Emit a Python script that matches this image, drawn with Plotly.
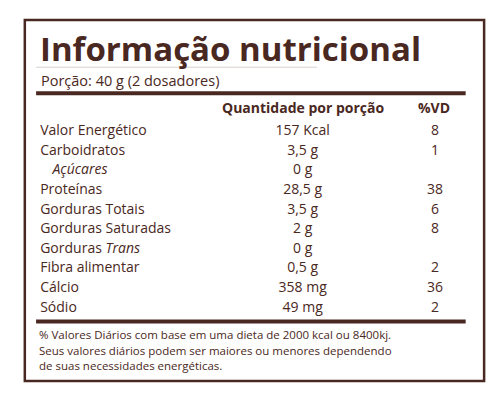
import plotly.graph_objects as go

nutrients = ["Valor Energético", "Carboidratos", "<i>Açúcares</i>", "Proteínas", "Gorduras Totais",
             "Gorduras Saturadas", "Gorduras <i>Trans</i>", "Fibra alimentar", "Cálcio", "Sódio"]
amounts = ["157 Kcal", "3,5 g", "0 g", "28,5 g", "3,5 g", "2 g", "0 g", "0,5 g", "358 mg", "49 mg"]
vd = ["8", "1", "", "38", "6", "8", "", "2", "36", "2"]
indent = [0, 0, 1, 0, 0, 0, 0, 0, 0, 0]
title = "Informação nutricional"
portion = "Porção: 40 g (2 dosadores)"
headers = ["Quantidade por porção", "%VD"]
footnote = ["% Valores Diários com base em uma dieta de 2000 kcal ou 8400kj.",
            "Seus valores diários podem ser maiores ou menores dependendo",
            "de suas necessidades energéticas."]

C = "#4a2822"
F = "'Open Sans', sans-serif"
fig = go.Figure()
ys = [131 + 19.5 * i for i in range(len(nutrients))]
fig.add_trace(go.Scatter(x=[40 + 12 * k for k in indent], y=ys, text=nutrients, mode="text",
                         textposition="middle right", textfont=dict(family=F, size=14, color=C), hoverinfo="skip"))
fig.add_trace(go.Scatter(x=[296] * len(amounts), y=ys, text=amounts, mode="text",
                         textposition="middle center", textfont=dict(family=F, size=14, color=C), hoverinfo="skip"))
fig.add_trace(go.Scatter(x=[425] * len(vd), y=ys, text=vd, mode="text",
                         textposition="middle center", textfont=dict(family=F, size=14, color=C), hoverinfo="skip"))

ann = [dict(x=38, y=48, text="<b>" + title + "</b>", xanchor="left", font=dict(family=F, size=33, color=C)),
       dict(x=39, y=80, text=portion, xanchor="left", font=dict(family=F, size=14.5, color=C)),
       dict(x=296, y=107, text="<b>" + headers[0] + "</b>", xanchor="center", font=dict(family=F, size=14, color=C)),
       dict(x=424, y=107, text="<b>" + headers[1] + "</b>", xanchor="center", font=dict(family=F, size=14, color=C))]
for i, t in enumerate(footnote):
    ann.append(dict(x=37, y=333 + 15.5 * i, text=t, xanchor="left", font=dict(family=F, size=11.5, color=C)))
for a in ann:
    a.update(xref="x", yref="y", showarrow=False, yanchor="middle")

shapes = [dict(type="rect", x0=25, x1=473, y0=20, y1=379, line=dict(color=C, width=2.5)),
          dict(type="line", x0=36, x1=310, y0=67, y1=67, line=dict(color="#d8d0ce", width=1)),
          dict(type="line", x0=36, x1=455, y0=93, y1=93, line=dict(color=C, width=4)),
          dict(type="line", x0=36, x1=455, y0=320, y1=320, line=dict(color=C, width=4))]
for s in shapes:
    s.update(xref="x", yref="y")

fig.update_layout(width=500, height=401, margin=dict(l=0, r=0, t=0, b=0),
                  paper_bgcolor="white", plot_bgcolor="white", showlegend=False,
                  xaxis=dict(range=[8.6, 496.3], visible=False, fixedrange=True),
                  yaxis=dict(range=[406.9, 8.1], visible=False, fixedrange=True),
                  annotations=ann, shapes=shapes)
fig.write_html("out.html")
